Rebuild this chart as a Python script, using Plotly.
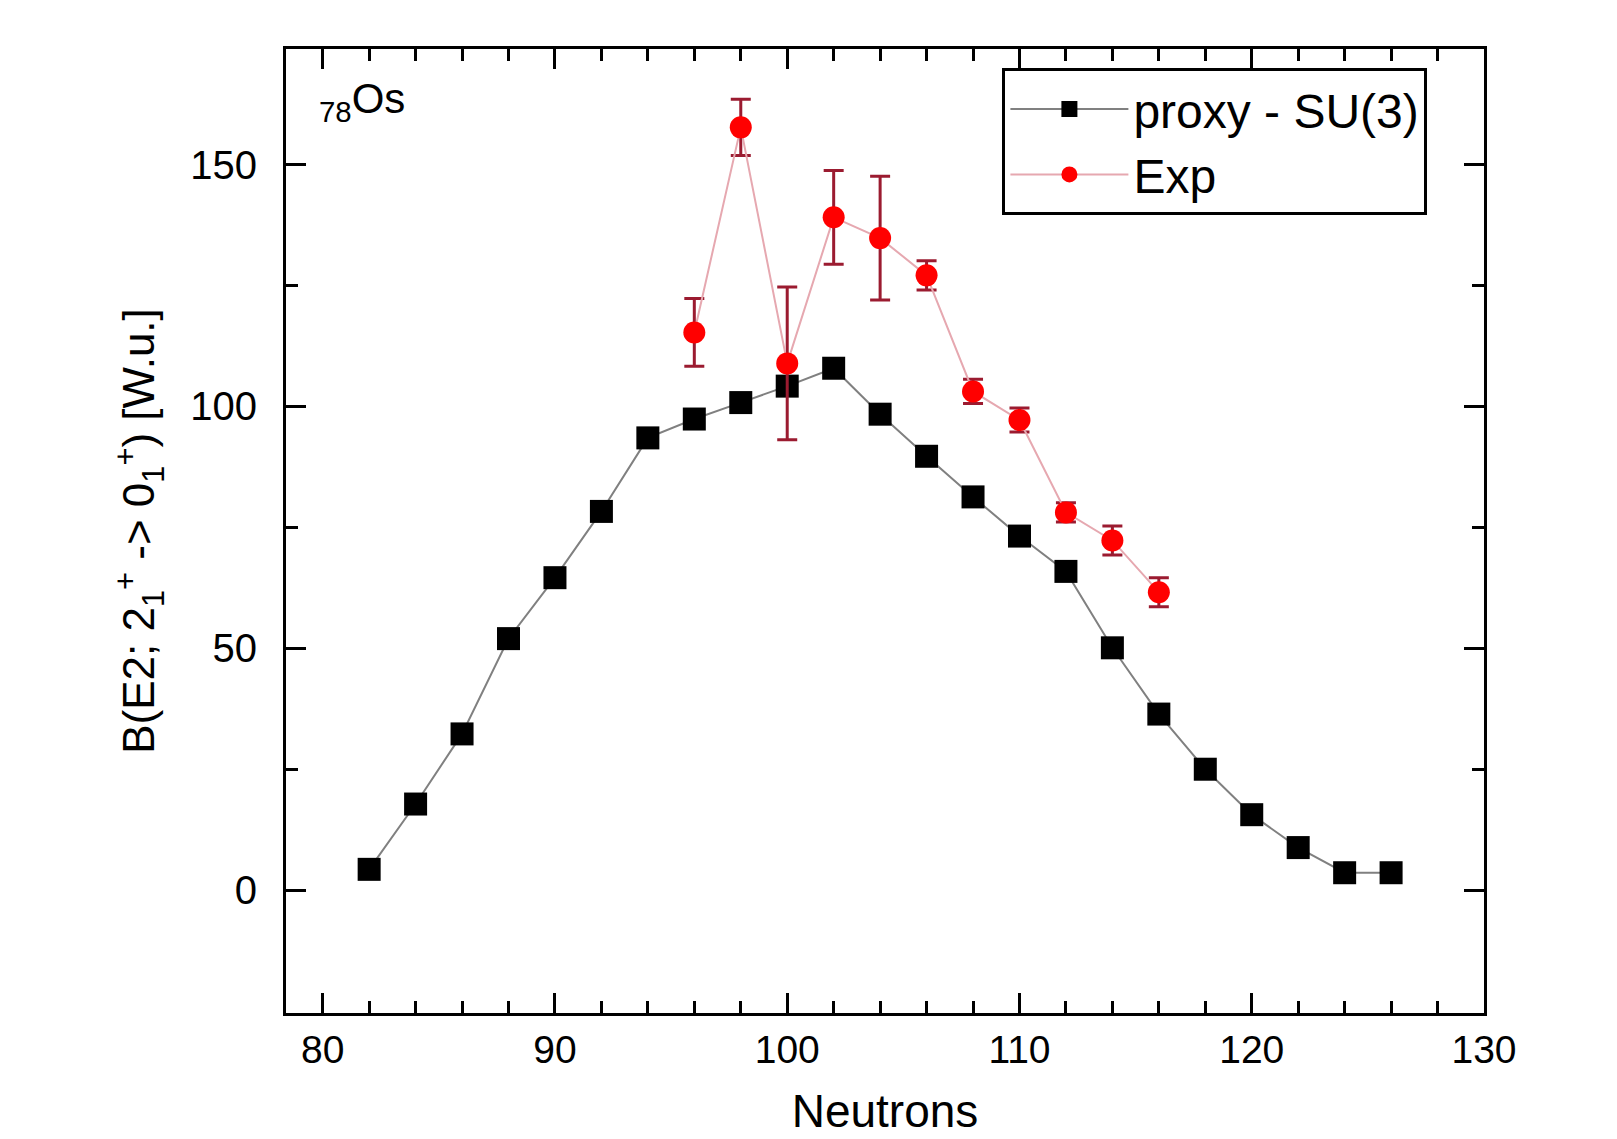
import plotly.graph_objects as go

# Data
neutrons_theory = [82, 84, 86, 88, 90, 92, 94, 96, 98, 100, 102, 104, 106, 108, 110, 112, 114, 116, 118, 120, 122, 124, 126]
be2_theory = [4.3, 17.8, 32.3, 52.0, 64.6, 78.3, 93.5, 97.4, 100.8, 104.2, 107.9, 98.4, 89.7, 81.3, 73.2, 65.9, 50.1, 36.4, 25.0, 15.6, 8.8, 3.6, 3.6]

neutrons_exp = [96, 98, 100, 102, 104, 106, 108, 110, 112, 114, 116]
be2_exp = [115.3, 157.7, 108.9, 139.1, 134.8, 127.1, 103.1, 97.2, 78.1, 72.3, 61.6]
be2_exp_err = [7.0, 5.8, 15.8, 9.7, 12.8, 3.0, 2.5, 2.5, 2.0, 3.0, 3.0]

x_tickvals = [80, 90, 100, 110, 120, 130]
y_tickvals = [0, 50, 100, 150]
y_minor_tickvals = [25, 75, 125]

FONT = "Liberation Sans, Arial, sans-serif"

fig = go.Figure()
fig.add_trace(go.Scatter(
    x=neutrons_theory, y=be2_theory, mode="lines+markers", name="proxy - SU(3)",
    line=dict(color="#808080", width=2),
    marker=dict(symbol="square", size=23, color="#000000"),
))
fig.add_trace(go.Scatter(
    x=neutrons_exp, y=be2_exp, mode="lines+markers", name="Exp",
    line=dict(color="#e6a8b0", width=2),
    marker=dict(symbol="circle", size=22, color="#ff0000"),
    error_y=dict(type="data", array=be2_exp_err, visible=True, color="#9b1b30", thickness=3, width=10),
))

axis_common = dict(
    showline=True, linecolor="black", linewidth=3, mirror="allticks",
    ticks="inside", ticklen=20, tickwidth=3, tickcolor="black",
    showgrid=False, zeroline=False, automargin=False,
)

fig.update_xaxes(
    range=[78.42, 130], tickvals=x_tickvals,
    tickfont=dict(family=FONT, size=39, color="black"),
    minor=dict(dtick=2, ticks="inside", ticklen=12, tickwidth=3, tickcolor="black", showgrid=False),
    title=dict(text="Neutrons", font=dict(family=FONT, size=46, color="black"), standoff=26),
    ticklabelstandoff=0,
    **axis_common,
)
fig.update_yaxes(
    range=[-25.4, 173.9], tickvals=y_tickvals,
    tickfont=dict(family=FONT, size=40, color="black"),
    minor=dict(tickmode="array", tickvals=y_minor_tickvals, ticks="inside", ticklen=12, tickwidth=3,
               tickcolor="black", showgrid=False),
    title=dict(text="B(E2; 2<sub>1</sub><sup>+</sup> -> 0<sub>1</sub><sup>+</sup>) [W.u.]",
               font=dict(family=FONT, size=44, color="black"), standoff=22),
    ticklabelstandoff=18,
    **axis_common,
)

fig.add_annotation(
    xref="paper", yref="paper", x=0.026, y=0.975, xanchor="left", yanchor="top",
    text="<sub>78</sub>Os", showarrow=False,
    font=dict(family=FONT, size=42, color="black"),
)

fig.update_layout(
    width=1617, height=1139, autosize=False,
    margin=dict(l=278, r=141, t=41, b=134),
    paper_bgcolor="white", plot_bgcolor="white",
    font=dict(family=FONT, color="black"),
    legend=dict(
        x=0.598, y=0.98, xanchor="left", yanchor="top",
        bordercolor="black", borderwidth=3, bgcolor="white",
        font=dict(family=FONT, size=48, color="black"),
        itemwidth=118, tracegroupgap=0,
    ),
    showlegend=True,
)

fig.write_html("out.html")
